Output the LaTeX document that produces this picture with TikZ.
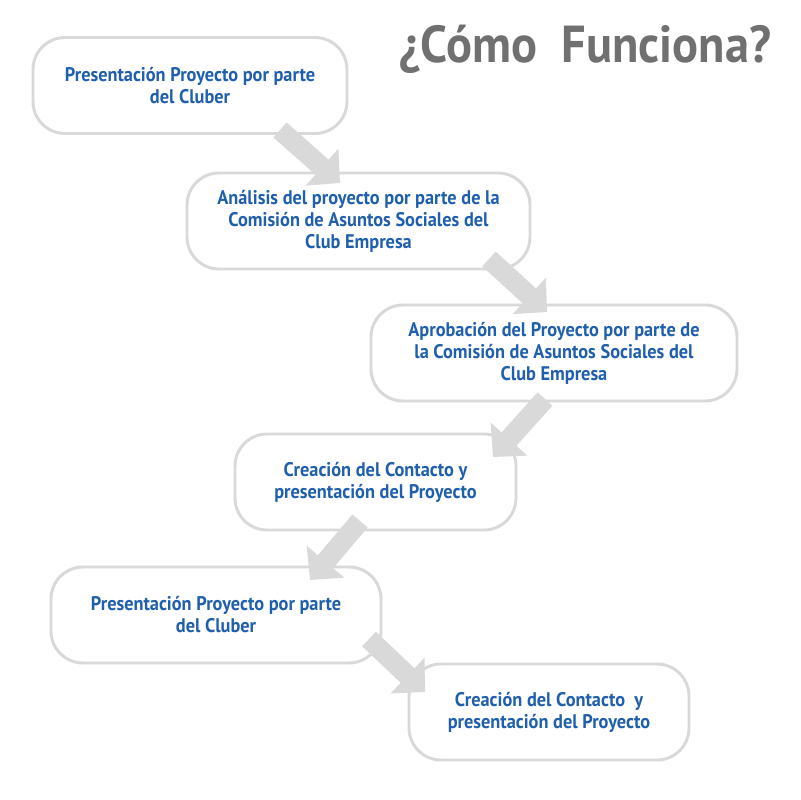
\documentclass[tikz,border=0pt]{standalone}
\usepackage{fontspec}
\setmainfont{PT Sans}[FakeStretch=0.93]
\usetikzlibrary{arrows.meta}
\definecolor{boxgray}{HTML}{D9D9D9}
\definecolor{arrowgray}{HTML}{D9D9D9}
\definecolor{textblue}{HTML}{1F5FAD}
\definecolor{titlegray}{HTML}{707070}
\newcommand{\px}{0.025cm}
\tikzset{
    every node/.style={font=\bfseries\fontsize{14}{15.6}\selectfont},
    stepbox/.style={draw=boxgray,line width=2.1pt,fill=white,rounded corners=0.8cm,
        text=textblue,align=center,inner sep=0pt,minimum height=96*\px},
    blockarrow/.style={draw=arrowgray,line width=20*\px,
        -{Triangle[length=24*\px,width=48*\px]}}
}
\begin{document}
\begin{tikzpicture}[x=\px,y=-\px]
    \fill[white] (0,0) rectangle (800,800);
    \useasboundingbox (0,0) rectangle (800,800);
    % title
    \node[font=\bfseries\fontsize{37}{42}\selectfont,text=titlegray,anchor=base] (title) at (585,63) {¿Cómo\ \ Funciona?};
    % steps
    \node[stepbox,minimum width=314*\px] (s1) at (190,85.5) {Presentación Proyecto por parte\\del Cluber};
    \node[stepbox,minimum width=343*\px] (s2) at (358.5,221) {Análisis del proyecto por parte de la\\Comisión de Asuntos Sociales del\\Club Empresa};
    \node[stepbox,minimum width=366*\px] (s3) at (554,353) {Aprobación del Proyecto por parte de\\la Comisión de Asuntos Sociales del\\Club Empresa};
    \node[stepbox,minimum width=281*\px] (s4) at (375.5,482) {Creación del Contacto y\\presentación del Proyecto};
    \node[stepbox,minimum width=330*\px] (s5) at (216,615) {Presentación Proyecto por parte\\del Cluber};
    \node[stepbox,minimum width=280*\px] (s6) at (549,712) {Creación del Contacto\ \ y\\presentación del Proyecto};
    % arrow ends
    \coordinate (a1) at (280,130); \coordinate (b1) at (340,183);
    \coordinate (a2) at (489,259); \coordinate (b2) at (547,312);
    \coordinate (a3) at (545,399); \coordinate (b3) at (493,457);
    \coordinate (a4) at (360,521); \coordinate (b4) at (310,580);
    \coordinate (a5) at (369,639); \coordinate (b5) at (425,692);
    \foreach \i in {1,...,5}
        \draw[blockarrow] (a\i) -- (b\i);
\end{tikzpicture}
\end{document}
